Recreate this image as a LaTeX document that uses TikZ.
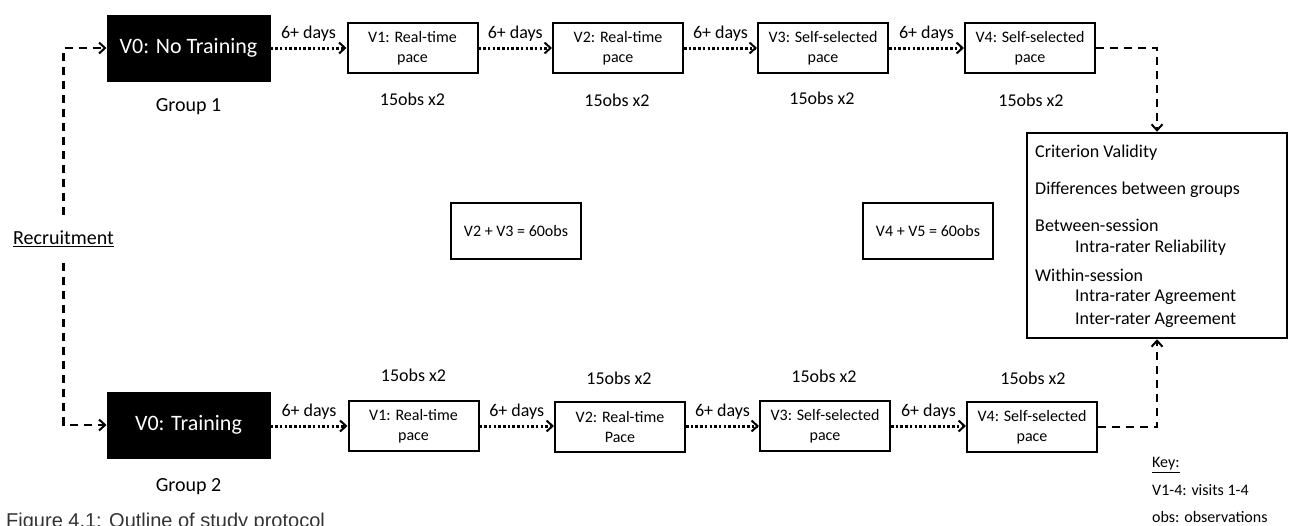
\documentclass[tikz,border=0pt]{standalone}
\usepackage{fontspec}
\setmainfont{Carlito}
\newfontfamily\capfont{Liberation Sans}
\usetikzlibrary{arrows.meta}

\tikzset{
  visit/.style={draw, line width=2pt, minimum width=130pt, minimum height=50pt,
    inner sep=0pt, align=center, font=\fontsize{16}{19.5}\selectfont},
  vzero/.style={draw, fill=black, text=white, line width=1pt, minimum width=163pt,
    minimum height=66pt, inner sep=0pt, font=\fontsize{22}{26}\selectfont},
  sumbox/.style={draw, line width=2pt, minimum width=130pt, minimum height=56pt,
    inner sep=0pt, font=\fontsize{16}{19.5}\selectfont},
  lbl/.style={inner sep=0pt, font=\fontsize{18}{22}\selectfont},
  grp/.style={inner sep=0pt, font=\fontsize{20}{24}\selectfont},
  outc/.style={anchor=west, inner sep=0pt, font=\fontsize{18}{22}\selectfont},
  keytxt/.style={anchor=west, inner sep=0pt, font=\fontsize{16}{19.5}\selectfont},
  tip/.style={-{Straight Barb[length=6pt,width=11pt,line width=2pt]}},
  wait/.style={tip, line width=3pt, dash pattern=on 2.5pt off 2.2pt},
  flow/.style={line width=2.5pt, dash pattern=on 8pt off 6pt},
  gaplabel/.style={midway, yshift=14pt, inner sep=0pt, font=\fontsize{18}{22}\selectfont}
}

\begin{document}
\begin{tikzpicture}[x=1pt,y=-1pt]
\useasboundingbox (0,0) rectangle (1293,525);

% recruitment
\node[grp, inner ysep=16pt] (rec) at (63.5,239) {\underline{Recruitment}};

% group 1 (top row)
\node[vzero] (g1) at (188.5,48) {V0: No Training};
\node[grp] (g1lab) at (188.5,107) {Group 1};
\node[visit] (v1t) at (412.5,48) {V1: Real-time\\pace};
\node[visit] (v2t) at (618,48) {V2: Real-time\\pace};
\node[visit] (v3t) at (823,48) {V3: Self-selected\\pace};
\node[visit] (v4t) at (1030,48) {V4: Self-selected\\pace};
\node[lbl] (o1t) at (412.5,99) {15obs x2};
\node[lbl] (o2t) at (617,100) {15obs x2};
\node[lbl] (o3t) at (822,98) {15obs x2};
\node[lbl] (o4t) at (1031,100) {15obs x2};

% group 2 (bottom row)
\node[vzero] (g2) at (188.5,425) {V0: Training};
\node[grp] (g2lab) at (188.5,487) {Group 2};
\node[visit] (v1b) at (413.5,426) {V1: Real-time\\pace};
\node[visit] (v2b) at (620,427) {V2: Real-time\\Pace};
\node[visit] (v3b) at (825,426) {V3: Self-selected\\pace};
\node[visit] (v4b) at (1032,427) {V4: Self-selected\\pace};
\node[lbl] (o1b) at (413.5,375) {15obs x2};
\node[lbl] (o2b) at (619,378) {15obs x2};
\node[lbl] (o3b) at (824,376) {15obs x2};
\node[lbl] (o4b) at (1033,378) {15obs x2};

% observation totals
\node[sumbox] (s23) at (516,231) {V2 + V3 = 60obs};
\node[sumbox] (s45) at (928,231) {V4 + V5 = 60obs};

% outcomes
\node[draw, line width=2.5pt, minimum width=260pt, minimum height=205pt, inner sep=0pt]
  (res) at (1157,235.5) {};
\node[outc] (r1) at (1035,153) {Criterion Validity};
\node[outc] (r2) at (1035,190) {Differences between groups};
\node[outc] (r3) at (1035,225) {Between-session};
\node[outc] (r4) at (1075,247.5) {Intra-rater Reliability};
\node[outc] (r5) at (1035,275) {Within-session};
\node[outc] (r6) at (1075,297.5) {Intra-rater Agreement};
\node[outc] (r7) at (1075,320) {Inter-rater Agreement};

% key
\node[keytxt] (k0) at (1152,465) {\underline{Key:}};
\node[keytxt] (k1) at (1152,490) {V1-4: visits 1-4};
\node[keytxt] (k2) at (1152,517) {obs: observations};

% caption
\node[anchor=base west, inner sep=0pt, text=black!80,
  font=\capfont\fontsize{20}{24}\selectfont] (cap) at (6,527)
  {Figure 4.1: Outline of study protocol};

% recruitment into both groups
\draw[flow, tip] (rec.north) |- (g1.west);
\draw[flow, tip] (rec.south) |- (g2.west);

% waiting periods between visits
\draw[wait] (g1.east) -- node[gaplabel] {6+ days} (v1t.west);
\draw[wait] (v1t.east) -- node[gaplabel] {6+ days} (v2t.west);
\draw[wait] (v2t.east) -- node[gaplabel] {6+ days} (v3t.west);
\draw[wait] (v3t.east) -- node[gaplabel] {6+ days} (v4t.west);
\draw[wait] (g2.east |- 0,426) -- node[gaplabel] {6+ days} (v1b.west |- 0,426);
\draw[wait] (v1b.east |- 0,426) -- node[gaplabel] {6+ days} (v2b.west |- 0,426);
\draw[wait] (v2b.east |- 0,426) -- node[gaplabel] {6+ days} (v3b.west |- 0,426);
\draw[wait] (v3b.east |- 0,426) -- node[gaplabel] {6+ days} (v4b.west |- 0,426);

% final visits feed the analyses
\draw[flow, tip] (v4t.east) -| (res.north);
\draw[flow, tip] (v4b.east) -| (res.south);
\end{tikzpicture}
\end{document}
